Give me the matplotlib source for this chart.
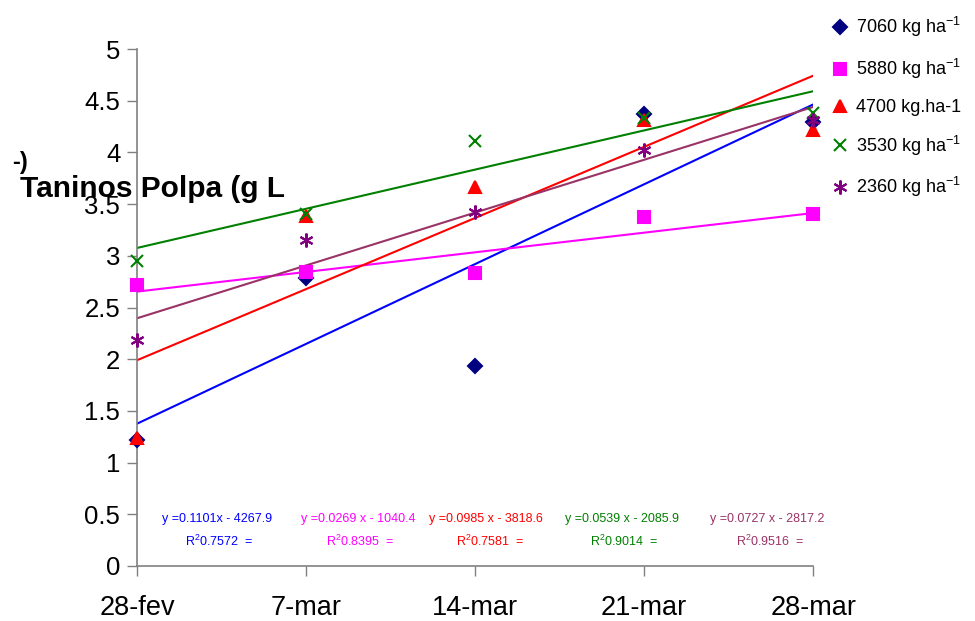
import numpy as np
import matplotlib
matplotlib.use("Agg")
import matplotlib.pyplot as plt

plt.rcParams["font.family"] = ["Liberation Sans", "DejaVu Sans"]
plt.rcParams["mathtext.default"] = "regular"

# sampling dates (days after 28 Feb)
days = [0, 7, 14, 21, 28]
date_labels = ["28-fev", "7-mar", "14-mar", "21-mar", "28-mar"]

# tannin content in pulp for each dose
t_7060 = [1.22, 2.79, 1.93, 4.37, 4.29]
t_5880 = [2.72, 2.84, 2.83, 3.38, 3.40]
t_4700 = [1.24, 3.39, 3.67, 4.31, 4.22]
t_3530 = [2.95, 3.40, 4.11, 4.33, 4.38]
t_2360 = [2.19, 3.15, 3.42, 4.02, 4.31]

labels = ["7060 kg ha$^{-1}$", "5880 kg ha$^{-1}$", "4700 kg.ha-1",
          "3530 kg ha$^{-1}$", "2360 kg ha$^{-1}$"]
equations = ["y =0.1101x - 4267.9", "y =0.0269 x - 1040.4", "y =0.0985 x - 3818.6",
             "y =0.0539 x - 2085.9", "y =0.0727 x - 2817.2"]
r2_texts = ["R$^2$0.7572  =", "R$^2$0.8395  =", "R$^2$0.7581  =",
            "R$^2$0.9014  =", "R$^2$0.9516  ="]

series = [t_7060, t_5880, t_4700, t_3530, t_2360]
markers = ["D", "s", "^", "x", (6, 2, 0)]
marker_colors = ["#000080", "#FF00FF", "#FF0000", "#008000", "#800080"]
line_colors = ["#0000FF", "#FF00FF", "#FF0000", "#008000", "#993366"]
marker_sizes = [7, 8, 9, 9, 10]
eq_x = [3.31, 9.15, 14.46, 20.09, 26.1]
r2_x = [3.40, 9.24, 14.62, 20.17, 26.22]

fig = plt.figure(figsize=(9.75, 6.21), dpi=100)
ax = fig.add_axes([0.1405, 0.0886, 0.6935, 0.8324])

x = np.array(days, dtype=float)
for vals, m, mc, lc, ms, lab in zip(series, markers, marker_colors, line_colors,
                                    marker_sizes, labels):
    ax.plot(days, vals, linestyle="none", marker=m, color=mc, markersize=ms,
            markeredgewidth=1.5, label=lab, clip_on=False, zorder=3)
    # linear trend line for the dose
    slope, icpt = np.polyfit(x, vals, 1)
    ax.plot([0, 28], [icpt, icpt + slope * 28], color=lc, lw=1.5, zorder=2)

for ex, rx, eq, r2, lc in zip(eq_x, r2_x, equations, r2_texts, line_colors):
    ax.text(ex, 0.455, eq, color=lc, fontsize=9, ha="center", va="center")
    ax.text(rx, 0.235, r2, color=lc, fontsize=9, ha="center", va="center")

ax.set_xlim(0, 28)
ax.set_ylim(0, 5)
ax.set_xticks(days)
ax.set_xticklabels(date_labels)
ax.set_yticks(np.arange(0, 5.01, 0.5))
ax.set_yticklabels(["0", "0.5", "1", "1.5", "2", "2.5", "3", "3.5", "4", "4.5", "5"])
ax.tick_params(axis="both", color="#808080", length=7, width=1)
ax.tick_params(axis="x", labelsize=19.5, pad=14)
ax.tick_params(axis="y", labelsize=18.5, pad=5)
for s in ["top", "right"]:
    ax.spines[s].set_visible(False)
for s in ["left", "bottom"]:
    ax.spines[s].set_color("#808080")
    ax.spines[s].set_linewidth(1.2)

fig.text(0.021, 0.695, "Taninos Polpa (g L", fontsize=21.5, fontweight="bold",
         ha="left", va="center")
fig.text(0.012, 0.738, "-)", fontsize=17, fontweight="bold", ha="left", va="center")

ax.legend(loc="upper left", bbox_to_anchor=(0.845, 0.99), bbox_transform=fig.transFigure,
          frameon=False, fontsize=13, labelspacing=0.98, handlelength=0.8,
          handletextpad=0.5, borderpad=0)

fig.savefig("out.png", dpi=100)
